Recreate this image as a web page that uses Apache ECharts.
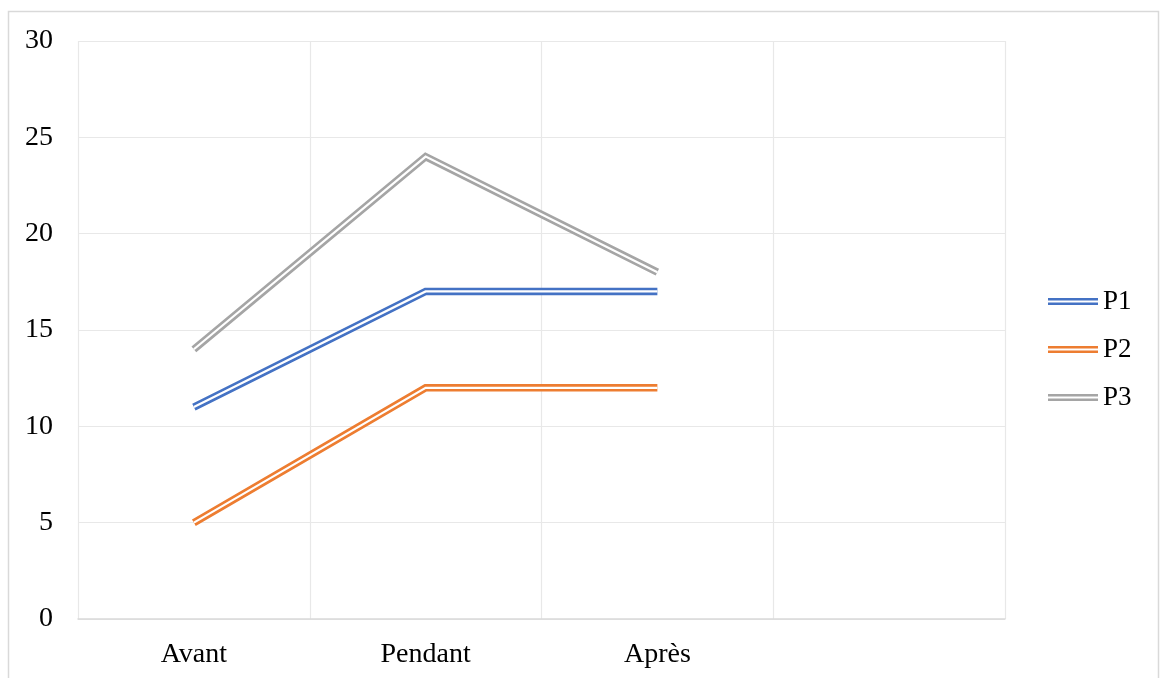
<!DOCTYPE html>
<html>
<head>
<meta charset="utf-8">
<style>
  html, body { margin: 0; padding: 0; background: #fff; }
  #chart { width: 1160px; height: 678px; }
</style>
<script src="https://cdn.jsdelivr.net/npm/echarts@6/dist/echarts.min.js"></script>
</head>
<body>
<div id="chart"></div>
<script>
// Categories (the last band is left empty)
const categories = ['Avant', 'Pendant', 'Après', ''];
const seriesNames = ['P1', 'P2', 'P3'];
const p1 = [11, 17, 17];
const p2 = [5, 12, 12];
const p3 = [14, 24, 18];
const colors = ['#4472C4', '#ED7D31', '#A5A5A5'];
const yTicks = { min: 0, max: 30, interval: 5 };

const values = [p1, p2, p3];
const font = '"Liberation Serif", "Times New Roman", serif';

// Each series is drawn as a "double" line: a wide coloured stroke with a thin white core on top
const series = [];
values.forEach((data, i) => {
  series.push({
    name: seriesNames[i],
    type: 'line',
    data: data,
    symbol: 'none',
    z: 2 + i * 2,
    lineStyle: { color: colors[i], width: 7.5, join: 'miter', cap: 'butt' },
    itemStyle: { color: colors[i] },
    emphasis: { disabled: true }
  });
  series.push({
    name: seriesNames[i] + '-core',
    type: 'line',
    data: data,
    symbol: 'none',
    z: 3 + i * 2,
    lineStyle: { color: '#ffffff', width: 2.2, join: 'miter', cap: 'butt' },
    emphasis: { disabled: true },
    silent: true
  });
});

const chart = echarts.init(document.getElementById('chart'), null, { renderer: 'canvas' });
chart.setOption({
  animation: false,
  backgroundColor: '#ffffff',
  graphic: [{
    type: 'rect',
    shape: { x: 8.5, y: 11.5, width: 1150, height: 700 },
    style: { fill: 'none', stroke: '#d9d9d9', lineWidth: 1.5 },
    silent: true,
    z: -1
  }],
  grid: { left: 78, top: 41, right: 155, bottom: 59 },
  legend: {
    data: seriesNames,
    orient: 'vertical',
    left: 1048,
    top: 288,
    padding: 0,
    itemWidth: 50,
    itemHeight: 7,
    itemGap: 21,
    icon: 'path://M0,0H50V2.6H0Z M0,4.4H50V7H0Z',
    textStyle: { fontFamily: font, fontSize: 27, color: '#000', padding: [0, 0, 0, 0] }
  },
  xAxis: {
    type: 'category',
    data: categories,
    boundaryGap: true,
    axisLine: { show: true, lineStyle: { color: '#d9d9d9', width: 1.5 } },
    axisTick: { show: false },
    axisLabel: { fontFamily: font, fontSize: 28, color: '#000', margin: 22, interval: 0 },
    splitLine: { show: true, lineStyle: { color: '#e8e8e8', width: 1.2 } }
  },
  yAxis: {
    type: 'value',
    min: yTicks.min,
    max: yTicks.max,
    interval: yTicks.interval,
    axisLine: { show: false },
    axisTick: { show: false },
    axisLabel: { fontFamily: font, fontSize: 28, color: '#000', margin: 25, padding: [4, 0, 0, 0] },
    splitLine: { show: true, lineStyle: { color: '#e8e8e8', width: 1.2 } }
  },
  series: series
});
</script>
</body>
</html>
